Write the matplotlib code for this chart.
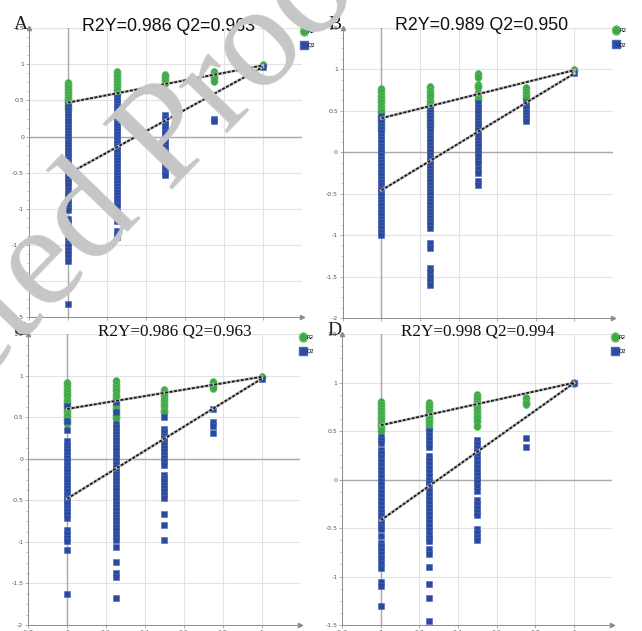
import matplotlib.pyplot as plt
from matplotlib.lines import Line2D
from matplotlib.markers import MarkerStyle
from matplotlib.transforms import Affine2D
from matplotlib.ticker import MultipleLocator, FuncFormatter

plt.rcParams['axes.unicode_minus'] = False

# permutation groups (correlation with original Y) - 5 columns per panel
PERM_X = [0.0, 0.25, 0.5, 0.75, 1.0]
PANEL_LABELS = ["A", "B", "C", "D"]
R2Y = [0.986, 0.989, 0.986, 0.998]
Q2 = [0.963, 0.950, 0.963, 0.994]
R2_INTERCEPT = [0.47, 0.41, 0.60, 0.56]
Q2_INTERCEPT = [-0.52, -0.46, -0.48, -0.42]
Y_RANGE = [(-2.5, 1.5), (-2.0, 1.5), (-2.0, 1.5), (-1.5, 1.5)]

# panel A
A_R2 = [
    [0.74, 0.70, 0.66, 0.62, 0.58, 0.54, 0.50, 0.46, 0.42, 0.38],
    [0.89, 0.85, 0.81, 0.77, 0.73, 0.69, 0.65, 0.61, 0.57],
    [0.86, 0.82, 0.78, 0.74],
    [0.89, 0.85, 0.81, 0.77],
    [0.986],
]
A_Q2 = [
    [0.45, 0.41, 0.37, 0.33, 0.29, 0.25, 0.21, 0.17, 0.13, 0.09, 0.05, 0.01,
     -0.03, -0.07, -0.11, -0.15, -0.19, -0.23, -0.27, -0.31, -0.35, -0.39,
     -0.43, -0.47, -0.51, -0.55, -0.59, -0.63, -0.67, -0.74, -0.78, -0.82,
     -0.86, -0.90, -0.94, -0.98, -1.02, -1.14, -1.18, -1.24, -1.31, -1.35,
     -1.40, -1.47, -1.52, -1.57, -1.62, -1.67, -1.72, -2.32],
    [0.55, 0.51, 0.47, 0.43, 0.39, 0.35, 0.31, 0.27, 0.23, 0.19, 0.15, 0.11,
     0.07, 0.03, -0.01, -0.05, -0.09, -0.13, -0.17, -0.21, -0.25, -0.29,
     -0.33, -0.37, -0.41, -0.45, -0.49, -0.53, -0.57, -0.61, -0.65, -0.69,
     -0.73, -0.77, -0.81, -0.85, -0.89, -0.93, -0.97, -1.05, -1.09, -1.13,
     -1.17, -1.31, -1.35, -1.40],
    [0.30, 0.26, 0.22, 0.18, 0.14, 0.10, 0.06, 0.02, -0.02, -0.06, -0.10,
     -0.14, -0.18, -0.22, -0.26, -0.30, -0.34, -0.38, -0.42, -0.46, -0.50,
     -0.54],
    [0.50, 0.25, 0.21],
    [0.963],
]

# panel B
B_R2 = [
    [0.76, 0.72, 0.68, 0.64, 0.60, 0.56, 0.52, 0.48, 0.44, 0.40, 0.36, 0.32, 0.28],
    [0.78, 0.74, 0.70, 0.66, 0.62, 0.58, 0.54, 0.50, 0.46, 0.42, 0.38, 0.34, 0.30],
    [0.94, 0.91, 0.81, 0.78, 0.71, 0.67, 0.63],
    [0.77, 0.73, 0.69, 0.65],
    [0.989],
]
B_Q2 = [
    [0.44, 0.40, 0.36, 0.32, 0.28, 0.24, 0.20, 0.16, 0.12, 0.08, 0.04, 0.00,
     -0.04, -0.08, -0.12, -0.16, -0.20, -0.24, -0.28, -0.32, -0.36, -0.40,
     -0.44, -0.48, -0.52, -0.56, -0.60, -0.64, -0.68, -0.72, -0.76, -0.80,
     -0.84, -0.88, -0.92, -0.96, -1.00],
    [0.53, 0.49, 0.45, 0.41, 0.37, 0.33, 0.29, 0.25, 0.21, 0.17, 0.13, 0.09,
     0.05, 0.01, -0.03, -0.07, -0.11, -0.15, -0.19, -0.23, -0.27, -0.31,
     -0.35, -0.39, -0.43, -0.47, -0.51, -0.55, -0.59, -0.63, -0.67, -0.71,
     -0.75, -0.79, -0.83, -0.87, -0.91, -1.10, -1.16, -1.40, -1.45, -1.50,
     -1.55, -1.60],
    [0.59, 0.55, 0.51, 0.47, 0.43, 0.39, 0.35, 0.31, 0.27, 0.23, 0.19, 0.15,
     0.11, 0.07, 0.03, -0.01, -0.05, -0.09, -0.13, -0.20, -0.25, -0.35, -0.40],
    [0.61, 0.57, 0.53, 0.49, 0.45, 0.41, 0.37],
    [0.950],
]

# panel C
C_R2 = [
    [0.91, 0.87, 0.83, 0.79, 0.75, 0.71, 0.67, 0.63, 0.59, 0.55, 0.51, 0.47, 0.43],
    [0.93, 0.89, 0.85, 0.81, 0.77, 0.73, 0.69, 0.65, 0.61, 0.57, 0.53, 0.49],
    [0.83, 0.79, 0.75, 0.71, 0.67, 0.63, 0.59, 0.56],
    [0.92, 0.88, 0.85],
    [0.986],
]
C_Q2 = [
    [0.64, 0.46, 0.35, 0.21, 0.17, 0.13, 0.09, 0.05, 0.01, -0.03, -0.07,
     -0.11, -0.15, -0.19, -0.23, -0.27, -0.31, -0.35, -0.39, -0.43, -0.47,
     -0.51, -0.55, -0.59, -0.63, -0.67, -0.71, -0.86, -0.90, -0.95, -0.99,
     -1.10, -1.63],
    [0.68, 0.56, 0.42, 0.38, 0.34, 0.30, 0.26, 0.22, 0.18, 0.14, 0.10, 0.06,
     0.02, -0.02, -0.06, -0.10, -0.14, -0.18, -0.22, -0.26, -0.30, -0.34,
     -0.38, -0.42, -0.46, -0.50, -0.54, -0.58, -0.62, -0.66, -0.70, -0.74,
     -0.78, -0.82, -0.86, -0.90, -0.94, -0.98, -1.06, -1.24, -1.38, -1.42,
     -1.68],
    [0.50, 0.36, 0.32, 0.28, 0.25, 0.21, 0.17, 0.13, 0.09, 0.05, 0.01, -0.03,
     -0.07, -0.19, -0.23, -0.27, -0.31, -0.35, -0.39, -0.43, -0.47, -0.66,
     -0.80, -0.98],
    [0.60, 0.44, 0.40, 0.31],
    [0.963],
]

# panel D
D_R2 = [
    [0.80, 0.77, 0.74, 0.71, 0.68, 0.65, 0.62, 0.59, 0.56, 0.53, 0.50],
    [0.79, 0.76, 0.73, 0.70, 0.67, 0.64, 0.61, 0.58, 0.55, 0.52],
    [0.87, 0.84, 0.81, 0.78, 0.75, 0.72, 0.69, 0.66, 0.63, 0.60, 0.55],
    [0.84, 0.80, 0.78],
    [0.998],
]
D_Q2 = [
    [0.44, 0.41, 0.38, 0.31, 0.27, 0.23, 0.19, 0.15, 0.11, 0.07, 0.03, -0.01,
     -0.05, -0.09, -0.13, -0.17, -0.21, -0.25, -0.29, -0.33, -0.37, -0.41,
     -0.45, -0.49, -0.51, -0.58, -0.65, -0.69, -0.73, -0.77, -0.81, -0.86,
     -0.91, -1.06, -1.10, -1.30],
    [0.50, 0.46, 0.42, 0.38, 0.34, 0.24, 0.20, 0.16, 0.12, 0.08, 0.04, 0.00,
     -0.04, -0.08, -0.12, -0.16, -0.20, -0.24, -0.28, -0.32, -0.36, -0.40,
     -0.44, -0.48, -0.52, -0.56, -0.60, -0.63, -0.72, -0.77, -0.90, -1.08,
     -1.22, -1.46],
    [0.41, 0.37, 0.33, 0.29, 0.25, 0.21, 0.17, 0.13, 0.09, 0.05, 0.01, -0.03,
     -0.07, -0.12, -0.21, -0.25, -0.29, -0.33, -0.37, -0.51, -0.55, -0.59,
     -0.62],
    [0.43, 0.34],
    [0.994],
]

ALL_R2 = [A_R2, B_R2, C_R2, D_R2]
ALL_Q2 = [A_Q2, B_Q2, C_Q2, D_Q2]

GREEN = "#3fa846"
GREEN_EDGE = "#62bf66"
BLUE = "#2b4a9f"
BLUE_EDGE = "#4a68bb"

circle = MarkerStyle("o", transform=Affine2D().scale(0.88, 1.0))
square = MarkerStyle("s", transform=Affine2D().scale(0.95, 1.0))

# axes boxes (left, bottom, width, height) in figure fraction
BOXES = [
    [0.045, 0.498, 0.425, 0.457],
    [0.534, 0.496, 0.421, 0.460],
    [0.044, 0.0095, 0.424, 0.461],
    [0.533, 0.0095, 0.421, 0.461],
]
TITLE_X = [0.51, 0.515, 0.54, 0.50]
TITLE_FONT = ["Liberation Sans", "Liberation Sans", "Liberation Serif", "Liberation Serif"]
TITLE_SIZE = [12.8, 12.8, 12.3, 12.3]


def fmt(v, pos):
    return f"{v:g}"


def draw_panel(fig, i):
    ax = fig.add_axes(BOXES[i])
    ymin, ymax = Y_RANGE[i]
    ax.set_xlim(-0.2, 1.2)
    ax.set_ylim(ymin, ymax)
    ax.set_xticks([-0.2, 0, 0.2, 0.4, 0.6, 0.8, 1.0])
    ax.yaxis.set_major_locator(MultipleLocator(0.5))
    ax.yaxis.set_minor_locator(MultipleLocator(0.125))
    ax.xaxis.set_major_formatter(FuncFormatter(fmt))
    ax.yaxis.set_major_formatter(FuncFormatter(fmt))
    ax.grid(True, color="#e3e3e3", lw=0.8, zorder=0)
    ax.set_axisbelow(True)
    ax.axhline(0, color="#a9a9a9", lw=1.0, zorder=1)
    ax.axvline(0, color="#a9a9a9", lw=1.0, zorder=1)

    for side in ["top", "right"]:
        ax.spines[side].set_visible(False)
    for side in ["left", "bottom"]:
        ax.spines[side].set_color("#8c8c8c")
        ax.spines[side].set_linewidth(0.7)
    ax.plot(0, 1, "^", color="#8c8c8c", ms=3, transform=ax.transAxes, clip_on=False)
    ax.plot(1, 0, ">", color="#8c8c8c", ms=3, transform=ax.transAxes, clip_on=False)
    ax.tick_params(axis="both", which="major", length=2, width=0.5, color="#8c8c8c",
                   labelsize=4.5, labelcolor="#555555", pad=1.5)
    ax.tick_params(axis="y", which="minor", length=1.2, width=0.4, color="#9a9a9a")
    if i < 2:
        # x labels of the top row are hidden under the lower panels
        ax.tick_params(axis="x", labelbottom=False)

    for x, vals in zip(PERM_X, ALL_R2[i]):
        ax.scatter([x] * len(vals), vals, marker=circle, s=34, color=GREEN,
                   edgecolor=GREEN_EDGE, linewidth=0.4, zorder=3)
    for x, vals in zip(PERM_X, ALL_Q2[i]):
        ax.scatter([x] * len(vals), vals, marker=square, s=24, color=BLUE,
                   edgecolor=BLUE_EDGE, linewidth=0.4, zorder=4)

    # regression lines through the permuted results
    for y0, y1 in [(R2_INTERCEPT[i], R2Y[i]), (Q2_INTERCEPT[i], Q2[i])]:
        ax.plot([0, 1], [y0, y1], color="#bdbdbd", lw=2.0, zorder=5)
        ax.plot([0, 1], [y0, y1], color="#1a1a1a", lw=1.3, dashes=(1.6, 0.9), zorder=6)

    title = f"R2Y={R2Y[i]:.3f} Q2={Q2[i]:.3f}"
    ax.text(TITLE_X[i], 1.008, title, transform=ax.transAxes, ha="center",
            va="center", fontsize=TITLE_SIZE[i], family=TITLE_FONT[i], color="#111111")
    ax.text(-0.03, 1.012, PANEL_LABELS[i], transform=ax.transAxes, ha="center",
            va="center", fontsize=14, family="Liberation Serif", color="#222222")

    handles = [
        Line2D([], [], ls="none", marker=circle, ms=6.5, color=GREEN, mec=GREEN_EDGE),
        Line2D([], [], ls="none", marker=square, ms=5.5, color=BLUE, mec=BLUE_EDGE),
    ]
    ax.legend(handles, ["R2", "Q2"], loc="upper left", bbox_to_anchor=(1.0, 1.0),
              frameon=False, fontsize=4, handlelength=0.7, handletextpad=0.3,
              labelspacing=1.6, borderaxespad=0.0, borderpad=0.1)
    return ax


fig = plt.figure(figsize=(6.42, 6.31), dpi=100)
for i in range(4):
    draw_panel(fig, i)

# watermark over the whole figure, split at the start of "Proof"
wm = dict(fontsize=106, family="Liberation Serif", color="#c6c6c6", rotation=46,
          rotation_mode="anchor", va="baseline", zorder=10)
fig.text(0.262, 0.698, "Uncorrected ", ha="right", **wm)
fig.text(0.262, 0.698, "Proof", ha="left", **wm)

fig.savefig("out.png", dpi=100)
plt.close(fig)
